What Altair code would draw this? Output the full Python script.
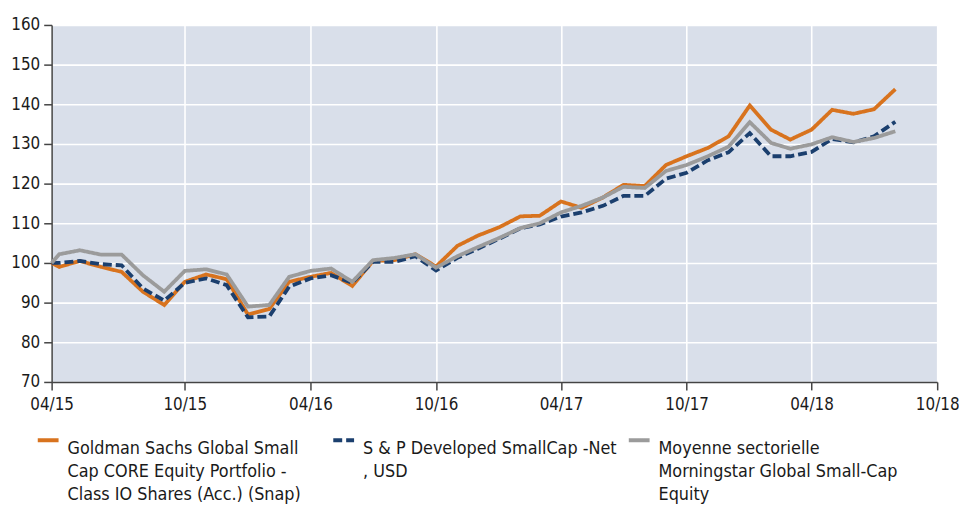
import altair as alt
import pandas as pd

dates = ["2015-03-21",
         "2015-04-01", "2015-05-01", "2015-06-01", "2015-07-01", "2015-08-01", "2015-09-01",
         "2015-10-01", "2015-11-01", "2015-12-01", "2016-01-01", "2016-02-01", "2016-03-01",
         "2016-04-01", "2016-05-01", "2016-06-01", "2016-07-01", "2016-08-01", "2016-09-01",
         "2016-10-01", "2016-11-01", "2016-12-01", "2017-01-01", "2017-02-01", "2017-03-01",
         "2017-04-01", "2017-05-01", "2017-06-01", "2017-07-01", "2017-08-01", "2017-09-01",
         "2017-10-01", "2017-11-01", "2017-12-01", "2018-01-01", "2018-02-01", "2018-03-01",
         "2018-04-01", "2018-05-01", "2018-06-01", "2018-07-01", "2018-08-01"]

fund = [100, 99.0, 100.5, 99.0, 97.75, 92.75, 89.4, 95.25, 97.1, 95.9, 87.0, 88.4, 95.25,
        96.5, 97.5, 94.2, 100.5, 100.7, 102.2, 99.1, 104.3, 106.9, 109.0, 111.75, 111.9,
        115.5, 113.9, 116.5, 119.7, 119.4, 124.7, 126.9, 129.0, 131.9, 139.7, 133.6, 131.1,
        133.6, 138.6, 137.6, 138.75, 143.8]

index = [100, 100.0, 100.5, 99.7, 99.4, 93.6, 90.5, 95.0, 96.1, 94.4, 86.3, 86.5, 94.0,
         96.1, 96.9, 95.0, 100.25, 100.25, 101.7, 98.1, 101.3, 103.6, 106.1, 108.75, 109.7,
         111.7, 112.75, 114.4, 116.9, 116.9, 121.25, 122.75, 125.9, 127.9, 132.75, 126.9, 126.9,
         128.0, 131.25, 130.4, 131.9, 135.6]

category = [100, 102.2, 103.2, 102.1, 102.1, 96.9, 92.75, 98.0, 98.4, 97.1, 89.0, 89.4, 96.5,
            98.0, 98.6, 95.25, 100.7, 101.25, 102.2, 98.8, 101.7, 104.0, 106.3, 108.8, 110.0,
            112.75, 114.4, 116.5, 119.2, 118.9, 123.2, 124.7, 126.9, 129.3, 135.5, 130.25, 128.8,
            129.9, 131.7, 130.5, 131.5, 133.2]

series_names = [
    "Goldman Sachs Global Small\nCap CORE Equity Portfolio -\nClass IO Shares (Acc.) (Snap)",
    "S & P Developed SmallCap -Net\n, USD",
    "Moyenne sectorielle\nMorningstar Global Small-Cap\nEquity",
]
series_values = [fund, index, category]
series_colors = ["#D8731E", "#1B3F6E", "#9B9B9B"]
series_dashes = [[1, 0], [9, 4], [1, 0]]
series_order = [2, 1, 0]

rows = []
for name, vals, order in zip(series_names, series_values, series_order):
    for d, v in zip(dates, vals):
        rows.append({"date": d, "value": v, "series": name, "z": order})
df = pd.DataFrame(rows)

FONT = "Liberation Sans Narrow, DejaVu Sans Condensed, Arial Narrow, sans-serif"

tick_dates = [alt.DateTime(year=2015, month=3, date=21)] + [
    alt.DateTime(year=y, month=m, date=1)
    for (y, m) in [(2015, 10), (2016, 4), (2016, 10), (2017, 4), (2017, 10), (2018, 4), (2018, 10)]
]

legend_common = dict(
    title=None, orient="none", legendX=-16, legendY=406,
    direction="horizontal", columns=3, columnPadding=3,
    symbolType="stroke", symbolSize=440, symbolStrokeWidth=4,
    labelFontSize=18, labelLimit=400, labelOffset=7,
    labelBaseline="top",
    labelExpr="split(datum.label + (length(split(datum.label, '\\n')) < 3 ? '\\n ' : ''), '\\n')",
    gridAlign="all", padding=0,
)

base = alt.Chart(df).mark_line(strokeWidth=3.8, strokeJoin="miter", strokeCap="butt").encode(
    x=alt.X("date:T",
            scale=alt.Scale(domain=[alt.DateTime(year=2015, month=3, date=21),
                                    alt.DateTime(year=2018, month=10, date=1)]),
            axis=alt.Axis(values=tick_dates, title=None, labelFlush=False,
                          labelExpr="datum.index == 0 ? '04/15' : timeFormat(datum.value, '%m/%y')",
                          grid=True, tickSize=8, labelPadding=7)),
    y=alt.Y("value:Q", scale=alt.Scale(domain=[70, 160], nice=False, zero=False),
            axis=alt.Axis(values=list(range(70, 161, 10)), title=None, tickSize=8,
                          labelPadding=4, grid=True, labelFlush=False)),
    color=alt.Color("series:N", scale=alt.Scale(domain=series_names, range=series_colors),
                    legend=alt.Legend(**legend_common)),
    strokeDash=alt.StrokeDash("series:N", scale=alt.Scale(domain=series_names, range=series_dashes),
                              legend=alt.Legend(**legend_common)),
    order=alt.Order("z:Q"),
).properties(
    width=893, height=360,
    autosize=alt.AutoSizeParams(type="none"),
    padding={"left": 44, "top": 15, "right": 22, "bottom": 125},
)

chart = base.configure(
    style={"guide-label": {"lineHeight": 23}},
).configure_view(
    fill="#D9DFEA", stroke=None
).configure_axis(
    labelFont=FONT, labelFontSize=17, labelColor="#1A1A1A",
    domainColor="#444444", domainWidth=1.5, tickColor="#444444", tickWidth=1.5,
    gridColor="#FFFFFF", gridWidth=1.6
).configure_legend(
    labelFont=FONT, labelColor="#1A1A1A"
)

chart.save("out.html", embed_options={"renderer": "svg", "actions": False})
